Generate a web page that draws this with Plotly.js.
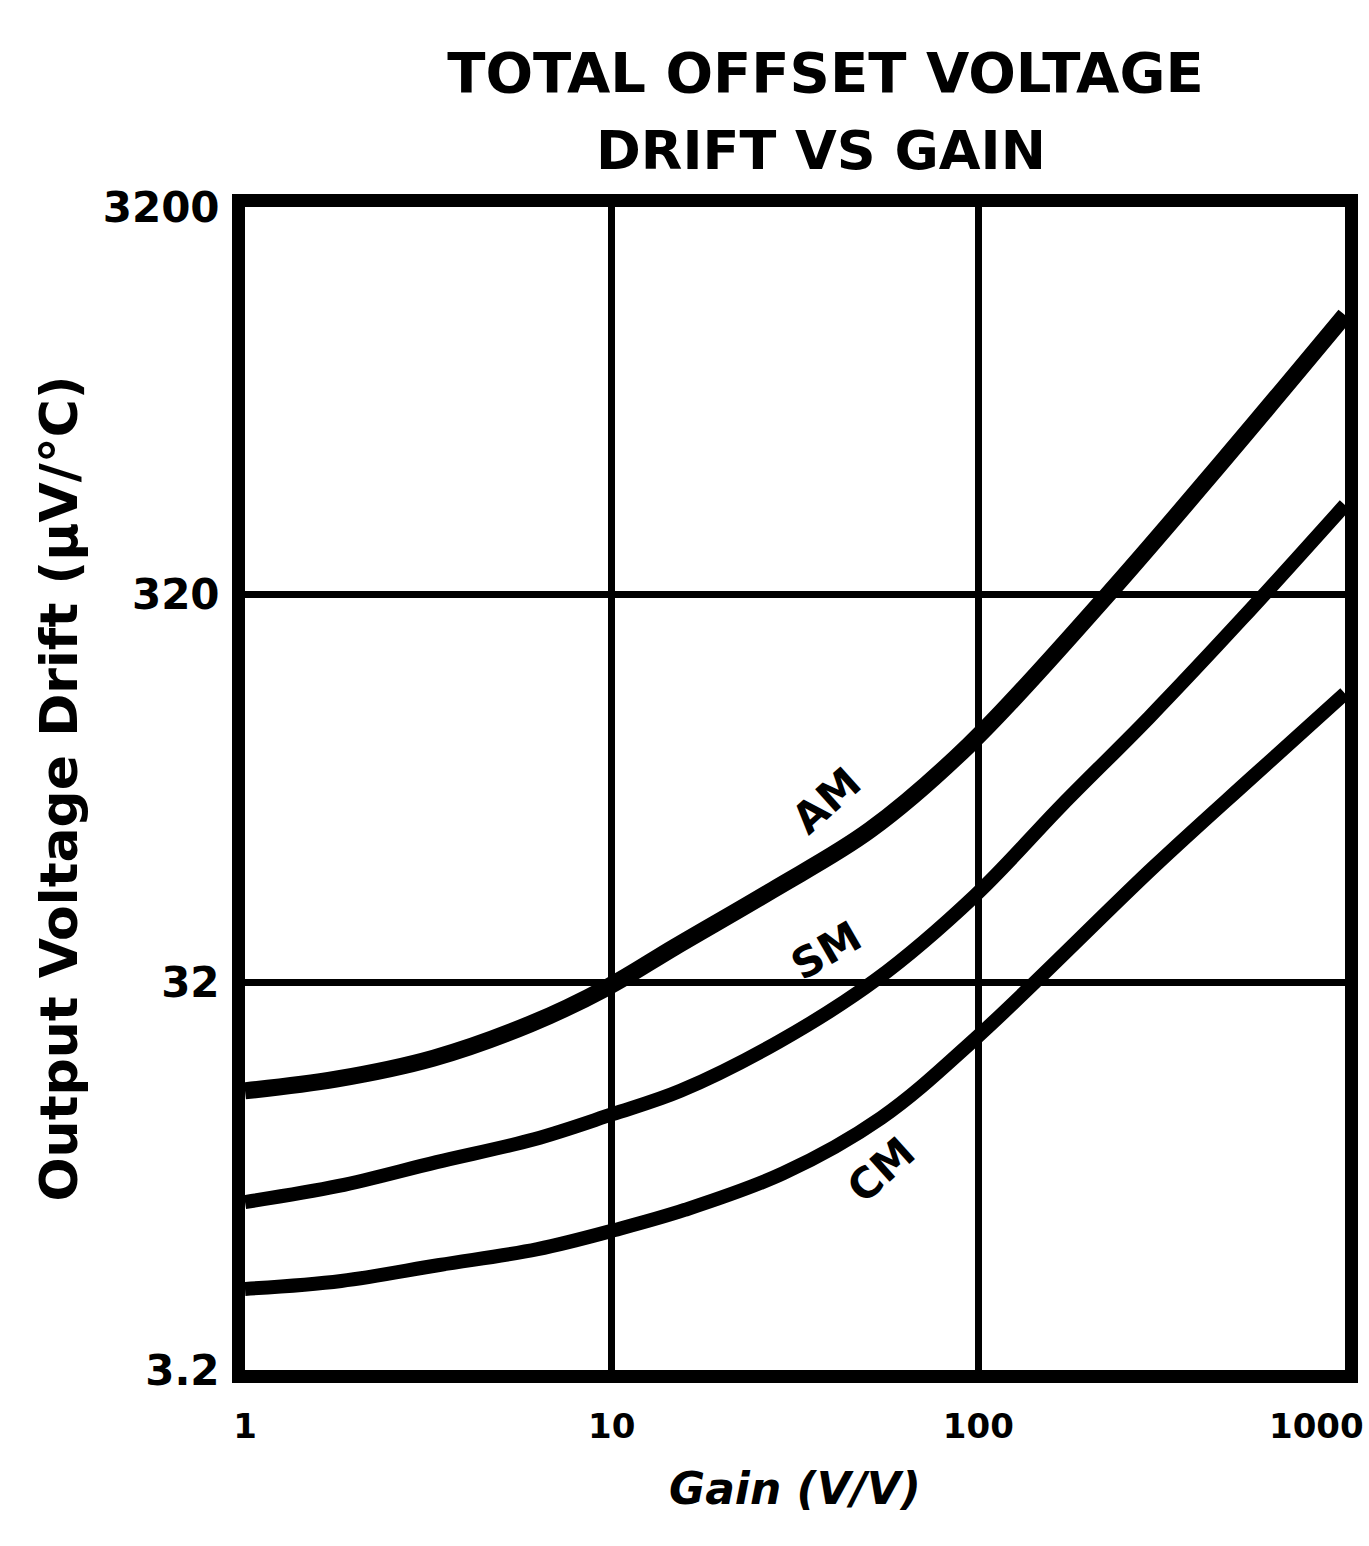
<!DOCTYPE html>
<html>
<head>
<meta charset="utf-8">
<script src="https://cdn.plot.ly/plotly-3.0.1.min.js"></script>
<style>html,body{margin:0;padding:0;background:#fff;}#chart{width:1369px;height:1546px;}</style>
</head>
<body>
<div id="chart"></div>
<script>
// Gain (V/V) and output voltage drift (uV/degC)
const gainAM = [1, 1.77, 3.27, 6.01, 9.75, 14.9, 27.5, 50.7, 94.3, 222, 466, 1000];
const driftAM = [16.8, 18.0, 20.4, 25.0, 31.1, 39.5, 55.4, 79.1, 131, 315, 711, 1684];

const gainSM = [1, 1.80, 3.33, 6.15, 10, 15.4, 28.6, 52.6, 97.8, 169, 293, 525, 1000];
const driftSM = [8.68, 9.55, 11.0, 12.6, 14.6, 16.8, 22.5, 32.5, 53.5, 91.7, 154.7, 278, 545];

const gainCM = [1, 1.83, 3.39, 6.28, 10.2, 15.8, 29.4, 54.3, 98.6, 301, 557, 1000];
const driftCM = [5.18, 5.43, 5.97, 6.56, 7.35, 8.28, 10.3, 14.3, 23.0, 63.5, 108, 178];

const xTickVals = [1, 10, 100, 1000];
const xTickText = ['1', '10', '100', '1000'];
const yTickVals = [3.2, 32, 320, 3200];
const yTickText = ['3.2', '32', '320', '3200'];

const curveLabels = ['AM', 'SM', 'CM'];
const labelX = [38.5, 38.5, 54.5];
const labelY = [94.5, 38.7, 10.5];
const labelAngle = [-42, -30, -42];

const FONT = 'DejaVu Sans, sans-serif';
const TICKFONT = {family: FONT, size: 34, color: '#000', weight: 'bold'};

const traces = [
  {x: gainAM, y: driftAM, name: 'AM', mode: 'lines', line: {color: '#000', width: 17, shape: 'spline', smoothing: 1}},
  {x: gainSM, y: driftSM, name: 'SM', mode: 'lines', line: {color: '#000', width: 14, shape: 'spline', smoothing: 1}},
  {x: gainCM, y: driftCM, name: 'CM', mode: 'lines', line: {color: '#000', width: 14, shape: 'spline', smoothing: 1}}
];

const annotations = curveLabels.map((t, i) => ({
  x: Math.log10(labelX[i]), y: Math.log10(labelY[i]), xref: 'x', yref: 'y',
  text: '<b>' + t + '</b>', showarrow: false, textangle: labelAngle[i],
  font: {family: FONT, size: 42, color: '#000'}
}));
annotations.push({
  xref: 'paper', yref: 'paper', x: 0.524, y: 1, yshift: 57, yanchor: 'middle',
  text: '<b>DRIFT VS GAIN</b>', showarrow: false,
  font: {family: FONT, size: 54, color: '#000'}
});
// last x tick label placed so it stays inside the page, as in the reference
annotations.push({
  xref: 'x', yref: 'paper', x: Math.log10(xTickVals[3]), y: 0, yanchor: 'top', yshift: -34,
  xanchor: 'right', xshift: 21, text: xTickText[3], showarrow: false, font: TICKFONT
});

const layout = {
  width: 1369, height: 1546,
  paper_bgcolor: '#fff', plot_bgcolor: '#fff',
  margin: {l: 245, r: 24, t: 207, b: 176},
  showlegend: false,
  title: {text: '<b>TOTAL OFFSET VOLTAGE</b>', x: 0.603, xanchor: 'center', y: 0.9534, yanchor: 'middle',
          font: {family: FONT, size: 56, color: '#000'}},
  xaxis: {
    type: 'log', range: [0, 3],
    tickvals: xTickVals, ticktext: xTickText.slice(0, 3).concat(['']),
    showgrid: true, gridcolor: '#000', gridwidth: 7,
    showline: true, linecolor: '#000', linewidth: 13, mirror: true,
    ticks: '', ticklabelstandoff: 14,
    tickfont: TICKFONT,
    zeroline: false,
    title: {text: '<b><i>Gain (V/V)</i></b>', standoff: 34, font: {family: FONT, size: 44, color: '#000'}}
  },
  yaxis: {
    type: 'log', range: [Math.log10(3.2), Math.log10(3200)],
    tickvals: yTickVals, ticktext: yTickText,
    showgrid: true, gridcolor: '#000', gridwidth: 7,
    showline: true, linecolor: '#000', linewidth: 13, mirror: true,
    ticks: '', ticklabelstandoff: 4,
    tickfont: {family: FONT, size: 42, color: '#000', weight: 'bold'},
    zeroline: false,
    title: {text: '<b>Output Voltage Drift (μV/°C)</b>', standoff: 14, font: {family: FONT, size: 52, color: '#000'}}
  },
  annotations: annotations
};

Plotly.newPlot('chart', traces, layout, {displayModeBar: false, staticPlot: true});
</script>
</body>
</html>
